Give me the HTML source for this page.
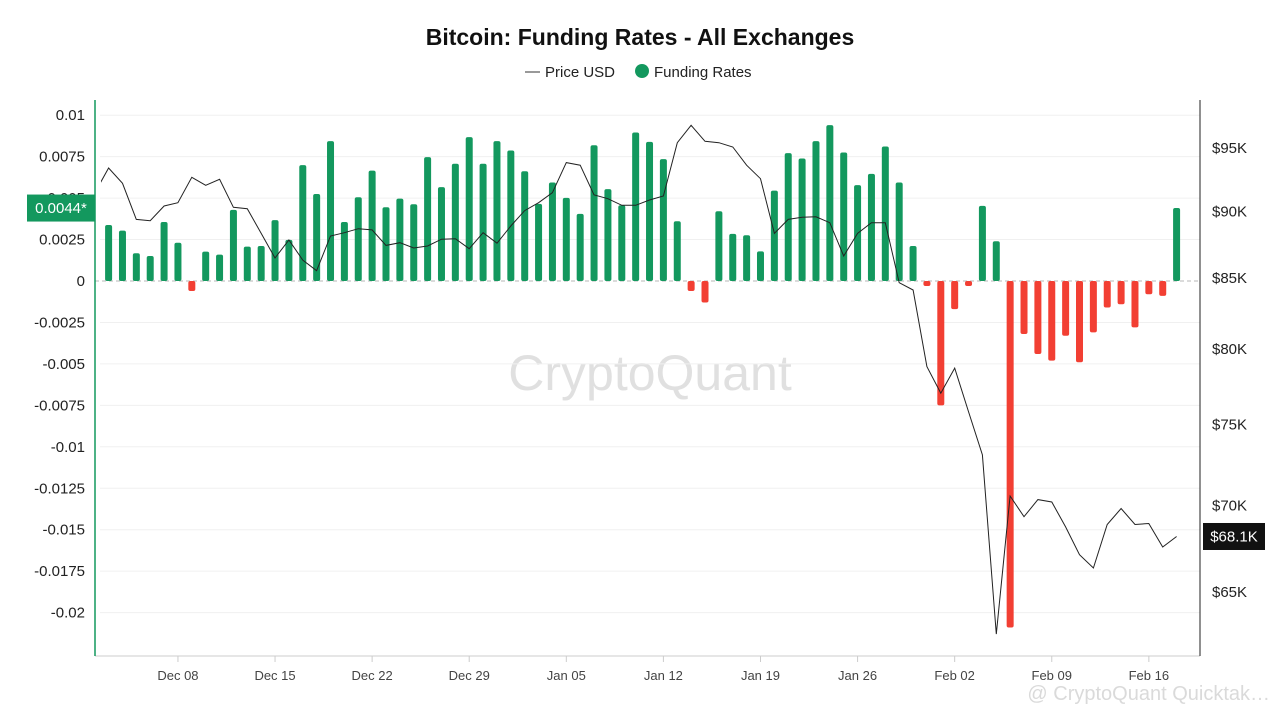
<!DOCTYPE html>
<html><head><meta charset="utf-8"><style>
body{margin:0;background:#fff;font-family:"Liberation Sans",sans-serif;}
#wrap{position:relative;width:1280px;height:720px;overflow:hidden}
</style></head><body>
<div id="wrap">
<svg id="chart" width="1280" height="720" font-family="Liberation Sans, sans-serif">
<text x="640" y="45" text-anchor="middle" font-size="23" font-weight="bold" fill="#111">Bitcoin: Funding Rates - All Exchanges</text>
<g>
<line x1="525" y1="72" x2="540" y2="72" stroke="#333" stroke-width="1"/>
<text x="545" y="77" font-size="15" fill="#222">Price USD</text>
<circle cx="642" cy="71" r="7" fill="#13985e"/>
<text x="654" y="77" font-size="15" fill="#222">Funding Rates</text>
</g>
<text x="650" y="390" text-anchor="middle" font-size="50" fill="#e0e0e0">CryptoQuant</text>
<text x="1270" y="700" text-anchor="end" font-size="20" fill="#dadada">@ CryptoQuant Quicktak…</text>
<g id="grid"></g><g id="bars"></g><g id="line"></g><g id="axes"></g>
</svg>
</div>
<script>
const dates=["Dec 03","Feb 18"];
const tickLabels=["Dec 08","Dec 15","Dec 22","Dec 29","Jan 05","Jan 12","Jan 19","Jan 26","Feb 02","Feb 09","Feb 16"];
const tickDayIndex=[5,12,19,26,33,40,47,54,61,68,75];
const leftTicks=[0.01,0.0075,0.005,0.0025,0,-0.0025,-0.005,-0.0075,-0.01,-0.0125,-0.015,-0.0175,-0.02];
const leftTickLabels=["0.01","0.0075","0.005","0.0025","0","-0.0025","-0.005","-0.0075","-0.01","-0.0125","-0.015","-0.0175","-0.02"];
const rightTicks=[95,90,85,80,75,70,65];
const funding=[0.00338,0.00304,0.00167,0.00151,0.00356,0.00231,-0.0006,0.00177,0.00159,0.00429,0.00207,0.00211,0.00367,0.00248,0.00699,0.00525,0.00844,0.00356,0.00505,0.00666,0.00445,0.00497,0.00463,0.00747,0.00566,0.00707,0.00868,0.00707,0.00844,0.00787,0.00662,0.00465,0.00594,0.00501,0.00405,0.00819,0.00554,0.00457,0.00896,0.00839,0.00735,0.0036,-0.0006,-0.0013,0.00421,0.00284,0.00276,0.00179,0.00545,0.00771,0.00739,0.00844,0.0094,0.00775,0.00578,0.00646,0.00811,0.00594,0.00211,-0.0003,-0.0075,-0.0017,-0.0003,0.00453,0.0024,-0.0209,-0.0032,-0.0044,-0.0048,-0.0033,-0.0049,-0.0031,-0.0016,-0.0014,-0.0028,-0.0008,-0.0009,0.0044];
// price in $K, starting one day before first bar (Dec 02)
const price=[91.34,93.31,92.1,89.3,89.2,90.33,90.58,92.57,91.94,92.41,90.23,90.12,88.24,86.4,87.74,86.25,85.47,88.04,88.29,88.59,88.5,87.34,87.54,87.14,87.29,87.8,87.84,87.09,88.29,87.5,88.8,89.97,90.58,91.36,93.74,93.53,91.2,90.89,90.38,90.38,90.79,91.1,95.35,96.78,95.46,95.35,95.0,93.53,92.46,88.24,89.3,89.46,89.5,89.05,86.55,88.24,89.05,89.05,84.6,84.07,78.74,76.97,78.64,75.77,73.02,62.65,70.5,69.26,70.28,70.14,68.66,67.05,66.29,68.8,69.75,68.8,68.86,67.49,68.1];
const NS="http://www.w3.org/2000/svg";
const PL=95,PR=1200,PT=100,PB=656;
const x0=108.6,dx=13.87;
function xDay(i){return x0+dx*i;}
function yL(v){return 281-(v/0.0025)*41.45;}
function yR(p){return 147-1170*Math.log(p/95);}
function mk(tag,attrs,parent){const e=document.createElementNS(NS,tag);for(const k in attrs)e.setAttribute(k,attrs[k]);parent.appendChild(e);return e;}
const grid=document.getElementById('grid'),bars=document.getElementById('bars'),line=document.getElementById('line'),axes=document.getElementById('axes');
leftTicks.forEach((v,i)=>{
 const y=yL(v);
 if(v!==0){const g=mk('line',{x1:PL+5,x2:PR,y1:y,y2:y,stroke:'#f0f0f0','stroke-width':1},grid);
 
 }
 const t=mk('text',{x:85,y:y+5,'text-anchor':'end','font-size':15,fill:'#222'},axes);t.textContent=leftTickLabels[i];
 
 
});
const z=mk('line',{x1:PL,x2:PR,y1:yL(0),y2:yL(0),stroke:'#cfcfcf','stroke-width':1.5,'stroke-dasharray':'4,3'},grid);


funding.forEach((v,i)=>{
 const x=xDay(i),y0=yL(0),y1=yL(v);
 const top=Math.min(y0,y1),h=Math.max(Math.abs(y1-y0),2);
 const r=mk('rect',{x:x-3.5,y:top,width:7,height:h,rx:2,fill:v>=0?'#13985e':'#f23f33'},bars);
 
 
});
const cp=mk('clipPath',{id:'cp'},line);
mk('rect',{x:101,y:PT,width:PR-101,height:PB-PT},cp);
const pts=price.map((p,i)=>xDay(i-1).toFixed(1)+','+yR(p).toFixed(1)).join(' ');
const pl=mk('polyline',{points:pts,fill:'none',stroke:'#222','stroke-width':1,'clip-path':'url(#cp)'},line);


rightTicks.forEach(p=>{
 const t=mk('text',{x:1212,y:yR(p)+6,'font-size':15,fill:'#222'},axes);t.textContent='$'+p+'K';
 
 
});
tickLabels.forEach((l,i)=>{
 const x=xDay(tickDayIndex[i]);
 const tk=mk('line',{x1:x,x2:x,y1:PB,y2:PB+6,stroke:'#ccc'},axes);
 
 
 const t=mk('text',{x:x,y:680,'text-anchor':'middle','font-size':13,fill:'#444'},axes);t.textContent=l;
 
 
});
const bx=mk('line',{x1:PL,x2:PR,y1:PB,y2:PB,stroke:'#ccc'},axes);


const la=mk('line',{x1:PL,x2:PL,y1:PT,y2:PB,stroke:'#13985e','stroke-width':1.5},axes);


const ra=mk('line',{x1:PR,x2:PR,y1:PT,y2:PB,stroke:'#222','stroke-width':1},axes);


const lastF=funding[funding.length-1],ly=yL(lastF);
const lt=mk('rect',{x:27,y:ly-13.5,width:68,height:27,fill:'#13985e'},axes);


const ltt=mk('text',{x:61,y:ly+5,'text-anchor':'middle','font-size':15,fill:'#fff'},axes);ltt.textContent=(Math.round(lastF*10000)/10000).toString()+'*';


const lastP=price[price.length-1],py=yR(lastP);
const rt=mk('rect',{x:1203,y:py-13.5,width:62,height:27,fill:'#111'},axes);


const rtt=mk('text',{x:1234,y:py+5,'text-anchor':'middle','font-size':15,fill:'#fff'},axes);rtt.textContent='$'+lastP.toFixed(1)+'K';


</script>
</body></html>
